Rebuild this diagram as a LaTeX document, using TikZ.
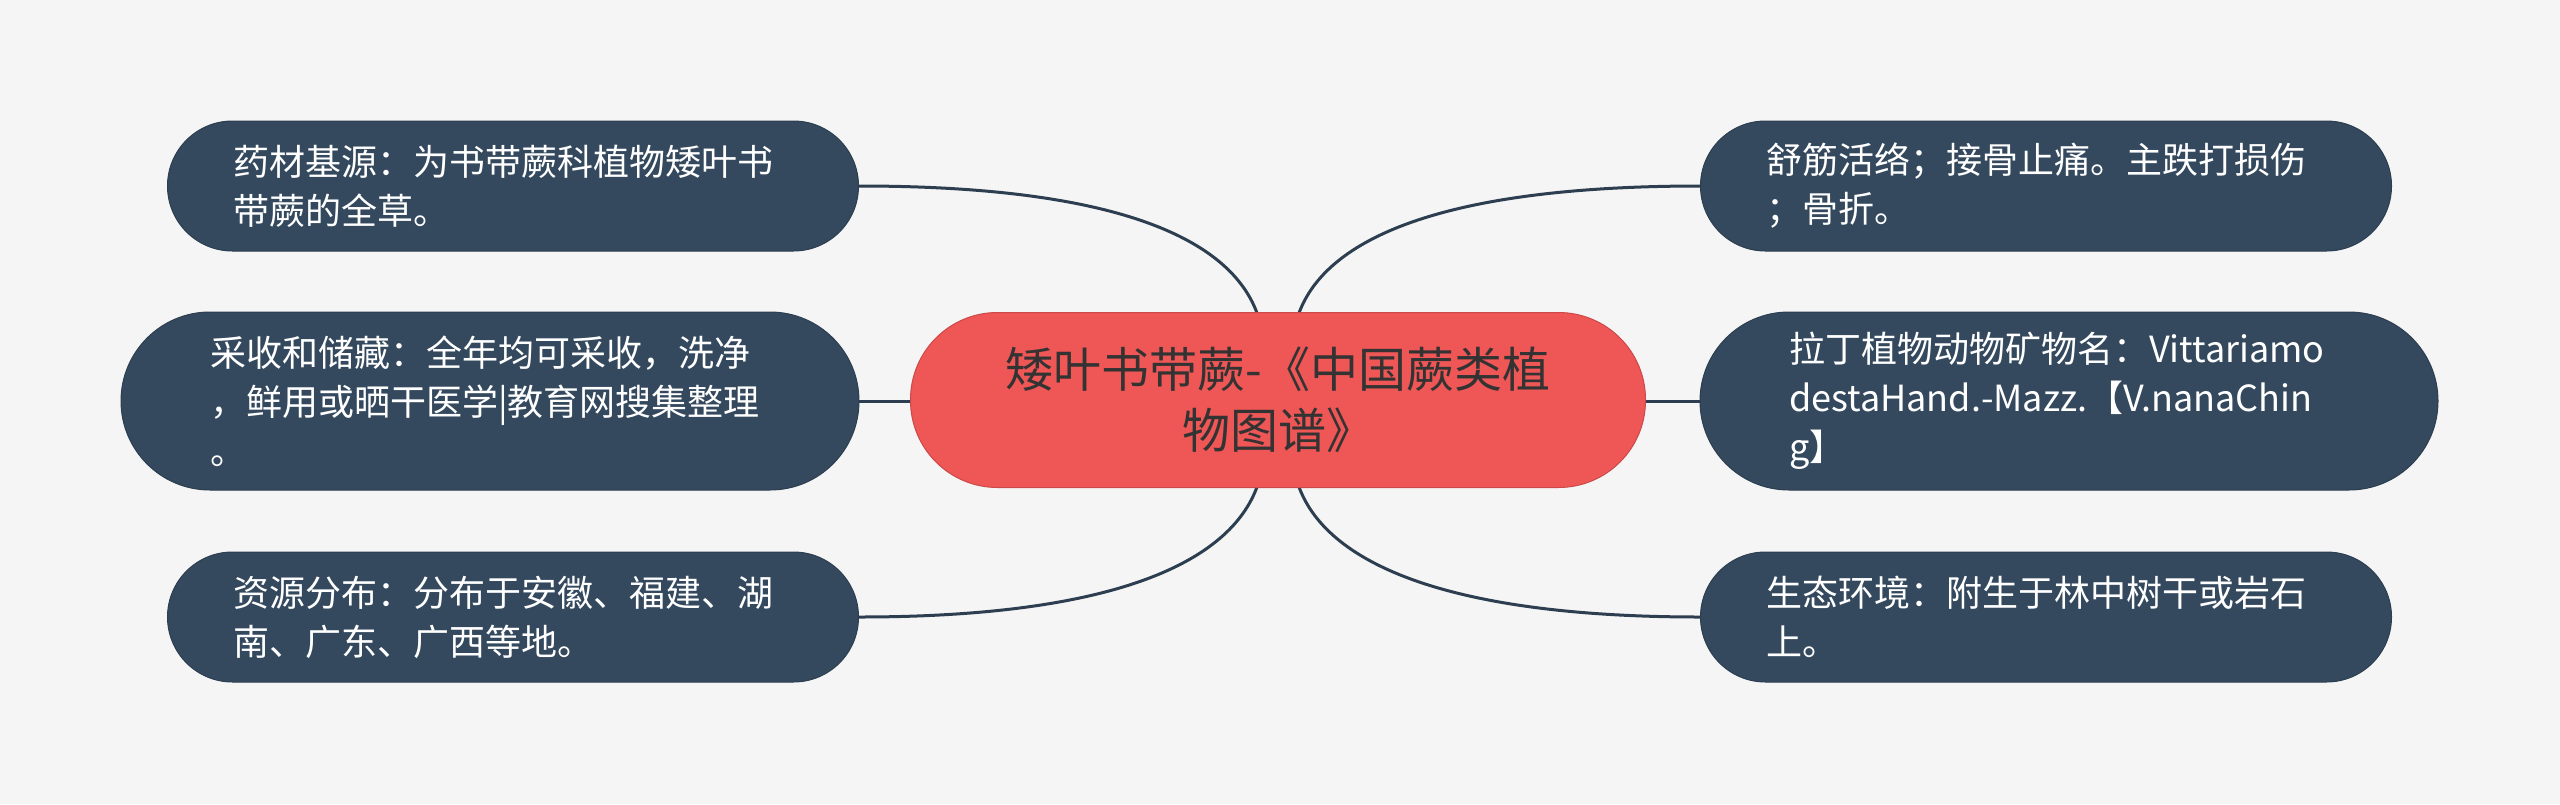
\documentclass[tikz,border=0pt]{standalone}
\usepackage{fontspec}
\setmainfont{Noto Sans CJK SC}
\usetikzlibrary{calc}
\definecolor{bgc}{HTML}{F5F5F5}
\definecolor{leaf}{HTML}{34495E}
\definecolor{leafline}{HTML}{2C3E50}
\definecolor{rootc}{HTML}{EF5656}
\definecolor{roottext}{HTML}{333333}
\definecolor{linkc}{HTML}{2C3E50}
\tikzset{
  leafbox/.style={fill=leaf, draw=leafline, line width=1pt, text=white,
    align=left, text width=560pt, inner sep=0pt,
    font=\fontsize{36pt}{49pt}\selectfont},
  leafsmall/.style={leafbox, minimum width=691pt, minimum height=130pt, rounded corners=65pt},
  leafbig/.style={leafbox, minimum width=738pt, minimum height=178pt, rounded corners=89pt},
  rootbox/.style={fill=rootc, draw=rootc!85!black, line width=1pt, text=roottext,
    align=center, inner sep=0pt, minimum width=735pt, minimum height=175pt,
    rounded corners=87pt, font=\fontsize{48pt}{61pt}\selectfont},
  link/.style={draw=linkc, line width=3pt}
}
\begin{document}
\begin{tikzpicture}[x=1pt,y=-1pt]
\useasboundingbox[fill=bgc] (0,0) rectangle (2560,804);
% connectors (drawn first, nodes on top)
\coordinate (clt) at (1257,313);
\coordinate (crt) at (1299,313);
\coordinate (clb) at (1257,487);
\coordinate (crb) at (1299,487);
\coordinate (ltE) at (859,186);
\coordinate (lbE) at (859,617);
\coordinate (rtW) at (1700,186);
\coordinate (rbW) at (1700,617);
\coordinate (lmE) at (859,401);
\coordinate (rmW) at (1700,401);
\coordinate (cW) at (911,401);
\coordinate (cE) at (1646,401);
\draw[link] (ltE) .. controls (1120,186) and (1230,240) .. (clt);
\draw[link] (lbE) .. controls (1120,617) and (1230,560) .. (clb);
\draw[link] (rtW) .. controls (1439,186) and (1326,240) .. (crt);
\draw[link] (rbW) .. controls (1439,617) and (1326,560) .. (crb);
\draw[link] (lmE) -- (cW);
\draw[link] (rmW) -- (cE);
% nodes
\node[rootbox] (c) at (1278,400) {矮叶书带蕨-《中国蕨类植\\物图谱》};
\node[leafsmall] (lt) at (513,186) {药材基源：为书带蕨科植物矮叶书\\带蕨的全草。};
\node[leafbig] (lm) at (490,401) {采收和储藏：全年均可采收，洗净\\，鲜用或晒干医学|教育网搜集整理\\。};
\node[leafsmall] (lb) at (513,617) {资源分布：分布于安徽、福建、湖\\南、广东、广西等地。};
\node[leafsmall] (rt) at (2046,186) {舒筋活络；接骨止痛。主跌打损伤\\；骨折。};
\node[leafbig] (rm) at (2069,401) {拉丁植物动物矿物名：Vittariamo\\destaHand.-Mazz.【V.nanaChin\\g】};
\node[leafsmall] (rb) at (2046,617) {生态环境：附生于林中树干或岩石\\上。};
\end{tikzpicture}
\end{document}
